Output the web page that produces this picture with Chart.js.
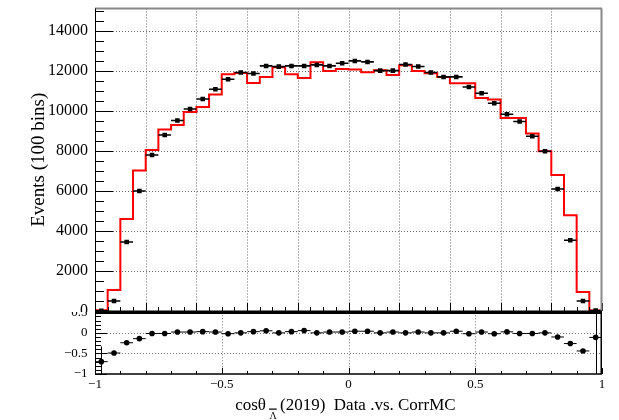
<!DOCTYPE html>
<html>
<head>
<meta charset="utf-8">
<script src="https://cdn.jsdelivr.net/npm/chart.js@4.4.1/dist/chart.umd.min.js"></script>
<style>
  html, body { margin: 0; padding: 0; background: #fff; }
  #wrap { position: relative; width: 619px; height: 420px; overflow: hidden; background: #fff; }
  #top { position: absolute; left: 0; top: 0; }
  #bot { position: absolute; left: 0; top: 312px; background: #fff; }
</style>
</head>
<body>
<div id="wrap">
  <canvas id="top" width="619" height="312" style="width:619px;height:312px"></canvas>
  <canvas id="bot" width="619" height="108" style="width:619px;height:108px"></canvas>
</div>
<script>
// Binning of cos(theta) for the anti-Lambda, 40 bins over [-1, 1]
const X_MIN = -1, X_MAX = 1, N_BINS = 40;
const BIN_W = (X_MAX - X_MIN) / N_BINS;

// Data counts per bin (2019)
const dataCounts = [
  10, 500, 3450, 6000, 7800, 8800, 9520, 10100, 10600, 11085,
  11585, 11920, 11870, 12250, 12215, 12250, 12250, 12300, 12250, 12385,
  12500, 12450, 12015, 12015, 12320, 12220, 11920, 11700, 11700, 11200,
  10885, 10385, 9835, 9470, 8735, 7985, 6100, 3535, 500, 25
];

// Corrected MC counts per bin
const mcCounts = [
  33, 1050, 4600, 7020, 8050, 9070, 9300, 9950, 10200, 10820,
  11835, 11900, 11400, 11700, 12185, 11835, 11650, 12435, 12000, 12100,
  12070, 11935, 12035, 11800, 12285, 12000, 11885, 11700, 11385, 11385,
  10650, 10570, 9650, 9650, 8870, 7985, 6800, 4785, 950, 28
];

// Lower pad: Data/MC - 1 per bin and its uncertainty
const ratio = [
  -0.70, -0.49, -0.24, -0.14, -0.015, -0.015, 0.02, 0.02, 0.03, 0.02,
  -0.02, 0.0, 0.03, 0.05, 0.0, 0.03, 0.055, 0.0, 0.02, 0.02,
  0.04, 0.04, 0.0, 0.02, 0.0, 0.02, 0.0, 0.0, 0.04, -0.02,
  0.02, -0.02, 0.025, -0.015, -0.015, 0.0, -0.10, -0.26, -0.44, -0.11
];
const ratioErr = [
  0.37, 0.05, 0.02, 0.015, 0.012, 0.012, 0.012, 0.012, 0.012, 0.012,
  0.012, 0.012, 0.012, 0.012, 0.012, 0.012, 0.012, 0.012, 0.012, 0.012,
  0.012, 0.012, 0.012, 0.012, 0.012, 0.012, 0.012, 0.012, 0.012, 0.012,
  0.012, 0.012, 0.012, 0.012, 0.012, 0.012, 0.015, 0.02, 0.04, 3.0
];

// Axis ticks
const topYTicks = [0, 2000, 4000, 6000, 8000, 10000, 12000, 14000];
const topYMax = 15120;
const topYMinorStep = 500;
const topXMajorStep = 0.2, topXMinorStep = 0.05;
const botYTicks = [-1, -0.5, 0, 0.5];
const botYMinorStep = 0.1;
const botXTicks = [-1, -0.5, 0, 0.5, 1];
const botXMinorStep = 0.1;

const FONT = "'Liberation Serif', 'Times New Roman', Times, serif";
const centers = dataCounts.map((_, i) => X_MIN + (i + 0.5) * BIN_W);
const fmt = v => (v < 0 ? '\u2212' + String(Math.abs(v)) : String(v));

function seg(ctx, x1, y1, x2, y2) {
  ctx.beginPath(); ctx.moveTo(x1, y1); ctx.lineTo(x2, y2); ctx.stroke();
}
function steps(lo, hi, step) {
  const out = [];
  const n = Math.round((hi - lo) / step);
  for (let k = 0; k <= n; k++) out.push(lo + k * step);
  return out;
}

// ---------- upper pad ----------
const topDecor = {
  id: 'topDecor',
  beforeDatasetsDraw(chart) {
    const { ctx, chartArea: a, scales: { x, y } } = chart;
    ctx.save();
    ctx.strokeStyle = '#666'; ctx.lineWidth = 1; ctx.setLineDash([1, 2]);
    steps(X_MIN, X_MAX, topXMajorStep).forEach(v => {
      if (Math.abs(v) > 0.999) return;
      const px = Math.round(x.getPixelForValue(v)) + 0.5;
      seg(ctx, px, a.top, px, a.bottom);
    });
    topYTicks.forEach(v => {
      if (v === 0) return;
      const py = Math.round(y.getPixelForValue(v)) + 0.5;
      seg(ctx, a.left, py, a.right, py);
    });
    ctx.restore();
  },
  afterDatasetDraw(chart, args) {
    if (args.index !== 1) return;
    // horizontal bin-width bars of the data points
    const { ctx, chartArea: a, scales: { x, y } } = chart;
    ctx.save();
    ctx.beginPath(); ctx.rect(a.left, a.top, a.right - a.left, a.bottom - a.top + 2); ctx.clip();
    ctx.strokeStyle = '#000'; ctx.lineWidth = 1.6;
    dataCounts.forEach((v, i) => {
      const py = y.getPixelForValue(v);
      seg(ctx, x.getPixelForValue(centers[i] - BIN_W / 2), py, x.getPixelForValue(centers[i] + BIN_W / 2), py);
    });
    ctx.restore();
  },
  afterDraw(chart) {
    const { ctx, chartArea: a, scales: { x, y } } = chart;
    ctx.save();
    ctx.strokeStyle = '#000'; ctx.lineWidth = 1;
    // y ticks (inside the frame)
    steps(0, 15000, topYMinorStep).forEach(v => {
      const py = Math.round(y.getPixelForValue(v)) + 0.5;
      const major = topYTicks.includes(v);
      seg(ctx, a.left, py, a.left + (major ? 18 : 9), py);
    });
    // x ticks along the lower edge
    steps(X_MIN, X_MAX, topXMinorStep).forEach(v => {
      const px = Math.round(x.getPixelForValue(v)) + 0.5;
      const r = (v - X_MIN) / topXMajorStep;
      const major = Math.abs(r - Math.round(r)) < 1e-6;
      seg(ctx, px, a.bottom, px, a.bottom - (major ? 8 : 4));
    });
    // frame
    ctx.strokeStyle = '#888'; ctx.lineWidth = 2;
    seg(ctx, a.left, a.top, a.right, a.top);
    seg(ctx, a.right - 0.5, a.top, a.right - 0.5, a.bottom);
    ctx.strokeStyle = '#000'; ctx.lineWidth = 1;
    seg(ctx, a.left + 0.5, a.top, a.left + 0.5, a.bottom);
    ctx.lineWidth = 2;
    seg(ctx, a.left, a.bottom + 0.5, a.right, a.bottom + 0.5);
    ctx.restore();
  }
};

new Chart(document.getElementById('top'), {
  type: 'scatter',
  data: {
    datasets: [
      {
        label: 'Data',
        data: dataCounts.map((v, i) => ({ x: centers[i], y: v })),
        pointStyle: 'rect', pointRadius: 3.2,
        backgroundColor: '#000', borderColor: '#000', borderWidth: 0,
        order: 0
      },
      {
        label: 'CorrMC',
        type: 'line',
        data: mcCounts.map((v, i) => ({ x: X_MIN + i * BIN_W, y: v }))
          .concat([{ x: X_MAX, y: mcCounts[N_BINS - 1] }]),
        stepped: true,
        borderColor: '#ff0000', borderWidth: 2,
        pointRadius: 0, fill: false,
        order: 1
      }
    ]
  },
  options: {
    responsive: false, animation: false, events: [],
    layout: { autoPadding: false, padding: { left: 0, right: 17, top: 8.5, bottom: 1 } },
    plugins: { legend: { display: false }, tooltip: { enabled: false } },
    scales: {
      x: { type: 'linear', min: X_MIN, max: X_MAX, display: false },
      y: {
        type: 'linear', min: 0, max: topYMax,
        afterFit: s => { s.width = 95; },
        afterBuildTicks: s => { s.ticks = topYTicks.map(v => ({ value: v })); },
        grid: { display: false, drawTicks: true, tickLength: 7, tickColor: 'rgba(0,0,0,0)' },
        border: { display: false },
        ticks: { color: '#000', font: { family: FONT, size: 16, lineHeight: 0.05 }, padding: 0,
                 callback: v => fmt(v) },
        title: { display: true, text: 'Events (100 bins)', color: '#000',
                 font: { family: FONT, size: 19 }, padding: { top: 28, bottom: 0 } }
      }
    }
  },
  plugins: [topDecor]
});

// ---------- lower pad ----------
const botDecor = {
  id: 'botDecor',
  beforeDatasetsDraw(chart) {
    const { ctx, chartArea: a, scales: { x, y } } = chart;
    ctx.save();
    ctx.strokeStyle = '#777'; ctx.lineWidth = 1; ctx.setLineDash([1, 2]);
    botXTicks.forEach(v => {
      if (Math.abs(v) > 0.999) return;
      const px = Math.round(x.getPixelForValue(v)) + 0.5;
      seg(ctx, px, a.top, px, a.bottom);
    });
    botYTicks.forEach(v => {
      if (v <= -1 || v >= 0.5) return;
      const py = Math.round(y.getPixelForValue(v)) + 0.5;
      seg(ctx, a.left, py, a.right, py);
    });
    ctx.setLineDash([]);
    // error bars
    ctx.beginPath(); ctx.rect(a.left, a.top, a.right - a.left, a.bottom - a.top); ctx.clip();
    ctx.strokeStyle = '#000'; ctx.lineWidth = 1;
    ratio.forEach((v, i) => {
      const py = y.getPixelForValue(v);
      const px = Math.round(x.getPixelForValue(centers[i])) + 0.5;
      seg(ctx, x.getPixelForValue(centers[i] - BIN_W / 2), py, x.getPixelForValue(centers[i] + BIN_W / 2), py);
      seg(ctx, px, y.getPixelForValue(v + ratioErr[i]), px, y.getPixelForValue(v - ratioErr[i]));
    });
    ctx.restore();
  },
  afterDraw(chart) {
    const { ctx, chartArea: a, scales: { x, y } } = chart;
    ctx.save();
    ctx.strokeStyle = '#000'; ctx.lineWidth = 1;
    steps(-1, 0.5, botYMinorStep).forEach(v => {
      const py = Math.round(y.getPixelForValue(v)) + 0.5;
      const major = botYTicks.some(t => Math.abs(t - v) < 1e-6);
      seg(ctx, a.left, py, a.left + (major ? 12 : 6), py);
    });
    steps(X_MIN, X_MAX, botXMinorStep).forEach(v => {
      const px = Math.round(x.getPixelForValue(v)) + 0.5;
      const major = botXTicks.some(t => Math.abs(t - v) < 1e-6);
      seg(ctx, px, a.bottom, px, a.bottom - (major ? 6 : 3));
    });
    // frame
    ctx.lineWidth = 1;
    seg(ctx, a.left + 0.5, a.top, a.left + 0.5, a.bottom);
    ctx.lineWidth = 1.5;
    seg(ctx, a.left, a.bottom, a.right, a.bottom);
    seg(ctx, a.right - 0.75, a.top, a.right - 0.75, a.bottom);
    ctx.lineWidth = 2;
    seg(ctx, a.left, a.top + 0.7, a.right, a.top + 0.7);

    // x-axis title with the anti-Lambda subscript
    const base = 98;
    ctx.fillStyle = '#000';
    ctx.textBaseline = 'alphabetic';
    ctx.textAlign = 'left';
    ctx.font = '17px ' + FONT;
    const head = 'cos\u03B8';
    const wHead = ctx.measureText(head).width;
    ctx.fillText(head, 266 - wHead, base);
    ctx.font = '10px ' + FONT;
    const wSub = ctx.measureText('\u039B').width;
    ctx.fillText('\u039B', 269.5, base + 9);
    ctx.fillRect(269, base - 1.5, wSub + 0.5, 1.2);
    ctx.font = '17px ' + FONT;
    ctx.fillText('(2019)  Data .vs. CorrMC', 280, base);
    ctx.restore();
  }
};

new Chart(document.getElementById('bot'), {
  type: 'scatter',
  data: {
    datasets: [{
      label: 'Data/CorrMC - 1',
      data: ratio.map((v, i) => ({ x: centers[i], y: v })),
      pointStyle: 'circle', pointRadius: 2.8,
      backgroundColor: '#000', borderColor: '#000', borderWidth: 0
    }]
  },
  options: {
    responsive: false, animation: false, events: [],
    layout: { autoPadding: false, padding: { left: 0, right: 17, top: 0.3, bottom: 0 } },
    plugins: { legend: { display: false }, tooltip: { enabled: false } },
    scales: {
      x: {
        type: 'linear', min: X_MIN, max: X_MAX,
        afterFit: s => { s.height = 46; },
        afterBuildTicks: s => { s.ticks = botXTicks.map(v => ({ value: v })); },
        grid: { display: false, drawTicks: false },
        border: { display: false },
        ticks: { color: '#000', font: { family: FONT, size: 13 }, padding: 3,
                 maxRotation: 0, autoSkip: false, callback: v => fmt(v) }
      },
      y: {
        type: 'linear', min: -1, max: 0.5,
        afterFit: s => { s.width = 95; },
        afterBuildTicks: s => { s.ticks = botYTicks.map(v => ({ value: v })); },
        grid: { display: false, drawTicks: true, tickLength: 7.5, tickColor: 'rgba(0,0,0,0)' },
        border: { display: false },
        ticks: { color: '#000', font: { family: FONT, size: 13, lineHeight: 0.04 }, padding: 0,
                 autoSkip: false, callback: v => fmt(v) }
      }
    }
  },
  plugins: [botDecor]
});
</script>
</body>
</html>
